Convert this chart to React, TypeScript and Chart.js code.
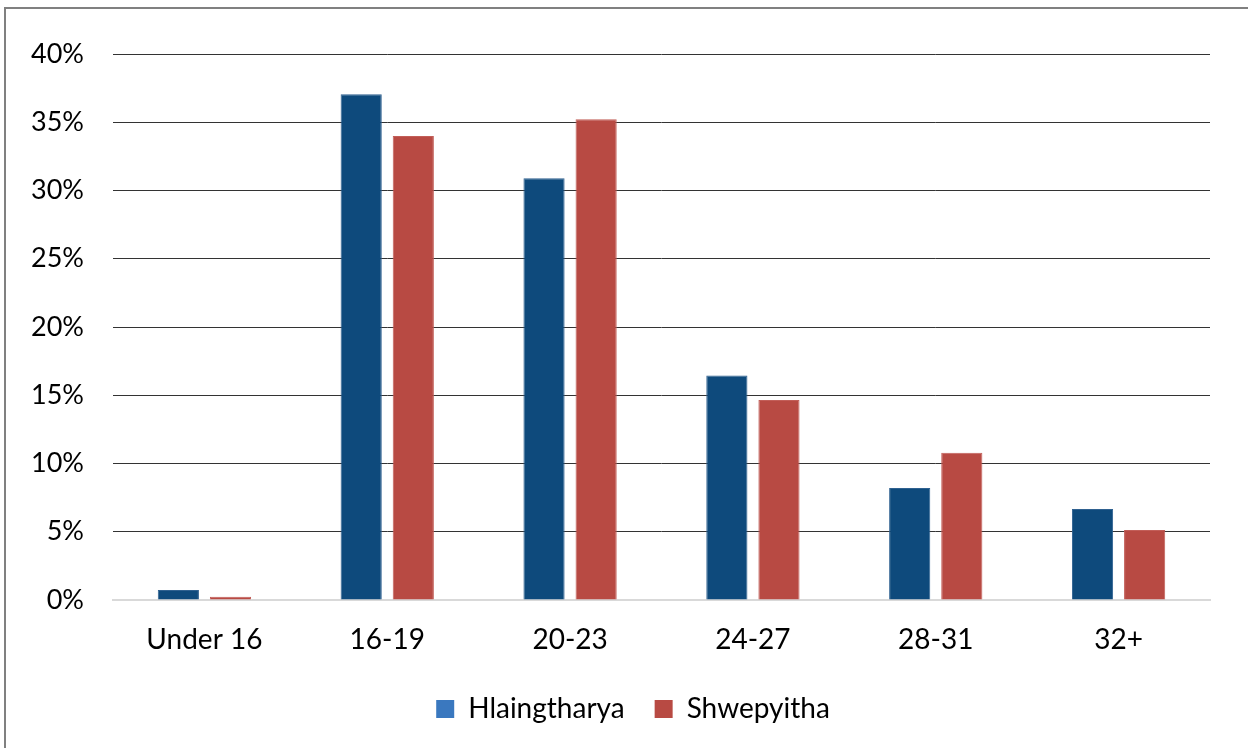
import React, { useEffect, useRef } from "react";
import { Chart, registerables } from "chart.js";

Chart.register(...registerables);

const categories = ["Under 16", "16-19", "20-23", "24-27", "28-31", "32+"];
const hlaingtharya = [0.73, 37.05, 30.9, 16.45, 8.2, 6.67];
const shwepyitha = [0.24, 34.0, 35.22, 14.65, 10.78, 5.13];
const yTicks = [0, 5, 10, 15, 20, 25, 30, 35, 40];

const FONT = "Lato, 'DejaVu Sans', sans-serif";

const legendShift = {
  id: "legendShift",
  afterLayout(chart: any) {
    const lg = chart.legend;
    if (lg) {
      lg.left += 56;
      lg.width = lg.right - lg.left;
    }
  },
};

export default function App() {
  const ref = useRef<HTMLCanvasElement | null>(null);

  useEffect(() => {
    if (!ref.current) return;
    const chart = new Chart(ref.current, {
      type: "bar",
      data: {
        labels: categories,
        datasets: [
          {
            label: "Hlaingtharya",
            data: hlaingtharya,
            backgroundColor: "#0e4a7c",
            borderColor: "#2f6190",
            borderWidth: 1,
          },
          {
            label: "Shwepyitha",
            data: shwepyitha,
            backgroundColor: "#b84a43",
            borderColor: "#c25e58",
            borderWidth: 1,
          },
        ],
      },
      plugins: [legendShift],
      options: {
        animation: false,
        responsive: false,
        maintainAspectRatio: false,
        layout: { padding: { left: 0, right: 38, top: 54, bottom: 15 } },
        datasets: {
          bar: { categoryPercentage: 0.57, barPercentage: 0.79 },
        },
        plugins: {
          tooltip: { enabled: false },
          legend: {
            position: "bottom",
            labels: {
              font: { family: FONT, size: 28 },
              color: "#000",
              boxWidth: 18,
              boxHeight: 18,
              padding: 30,
              generateLabels: () => [
                {
                  text: "Hlaingtharya",
                  fillStyle: "#3a78bf",
                  strokeStyle: "#3a78bf",
                  lineWidth: 0,
                  datasetIndex: 0,
                },
                {
                  text: "Shwepyitha",
                  fillStyle: "#b84a43",
                  strokeStyle: "#b84a43",
                  lineWidth: 0,
                  datasetIndex: 1,
                },
              ],
            },
          },
        },
        scales: {
          x: {
            afterFit: (s: any) => {
              s.height = 65;
            },
            grid: { display: false, drawTicks: false },
            border: { display: true, color: "#d9d9d9", width: 2 },
            ticks: {
              font: { family: FONT, size: 28, lineHeight: 1.5 },
              color: "#000",
              padding: 19,
            },
          },
          y: {
            min: 0,
            max: 40,
            afterFit: (s: any) => {
              s.width = 113;
            },
            afterBuildTicks: (s: any) => {
              s.ticks = yTicks.map((v) => ({ value: v }));
            },
            grid: {
              drawTicks: false,
              color: (ctx: any) =>
                ctx.tick && ctx.tick.value === 0 ? "rgba(0,0,0,0)" : "#333333",
              lineWidth: 1,
            },
            border: { display: false },
            ticks: {
              font: { family: FONT, size: 27 },
              color: "#000",
              padding: 29,
              callback: (v: any) => v + "%",
            },
          },
        },
      },
    });
    return () => chart.destroy();
  }, []);

  return (
    <div
      style={{
        position: "fixed",
        left: 0,
        top: 0,
        width: 1248,
        height: 748,
        background: "#fff",
        overflow: "hidden",
      }}
    >
      <div
        style={{
          position: "absolute",
          left: 4,
          top: 7,
          width: 1400,
          height: 900,
          borderLeft: "2px solid #808080",
          borderTop: "2px solid #808080",
        }}
      />
      <canvas
        ref={ref}
        width={1248}
        height={748}
        style={{ position: "absolute", left: 0, top: 0, width: 1248, height: 748 }}
      />
    </div>
  );
}
